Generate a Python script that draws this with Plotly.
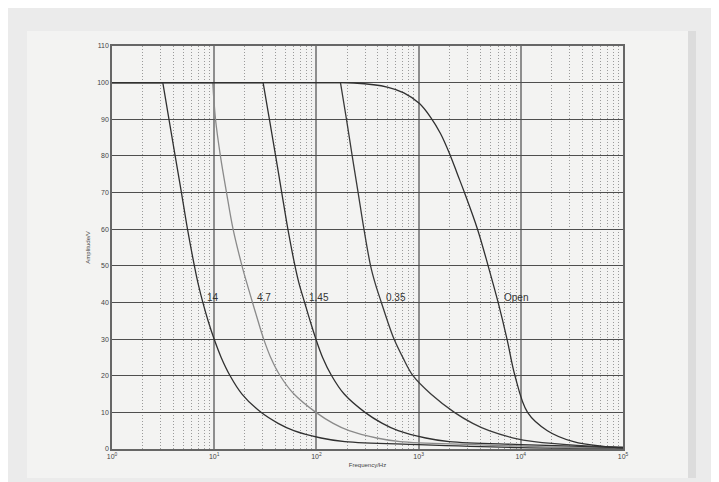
import math
import plotly.graph_objects as go

# ---- data ----
f_14 = [1, 3.14, 3.61, 4.15, 4.78, 5.48, 6.40, 6.98, 7.74, 8.71, 9.98, 11.7, 14.3, 18.7, 28.7,
        42.2, 60.1, 111, 190, 1000, 10000, 100000]
a_14 = [100, 100, 90, 80, 70, 60, 50, 45, 40, 35, 30, 25, 20, 15, 10,
        7, 5, 3, 2, 1.2, 0.4, 0.2]

f_47 = [1, 9.68, 10.3, 11.5, 13.2, 15.3, 18.7, 21.0, 23.7, 26.8, 30.5, 35.7, 44.2, 60.3, 98.9,
        146, 209, 389, 661, 3550, 31600, 100000]
a_47 = [100, 100, 90, 80, 70, 60, 50, 45, 40, 35, 30, 25, 20, 15, 10,
        7, 5, 3, 2, 1.2, 0.4, 0.3]

f_145 = [1, 30.1, 34.7, 39.9, 45.8, 52.6, 61.7, 67.9, 76.7, 86.7, 98.9, 115, 141, 187, 299,
         442, 631, 1175, 1995, 10000, 100000]
a_145 = [100, 100, 90, 80, 70, 60, 50, 45, 40, 35, 30, 25, 20, 15, 10,
         7, 5, 3, 2, 1.2, 0.4]

f_035 = [1, 172, 197, 224, 256, 292, 339, 378, 432, 495, 575, 700, 881, 1318, 2239,
         3388, 4898, 8511, 13490, 35480, 100000]
a_035 = [100, 100, 90, 80, 70, 60, 50, 45, 40, 35, 30, 25, 20, 15, 10,
         7, 5, 3, 2, 1, 0.5]

f_open = [1, 150, 232, 493, 717, 1020, 1307, 1637, 2050, 2400, 2810, 3770, 4790, 6000, 7330, 8770,
          11640, 18200, 32800, 64500, 100000]
a_open = [100, 100, 99.9, 98.8, 97.2, 94.3, 90.6, 86.1, 80, 75, 70, 60, 50, 40, 30, 20,
          10, 5, 2, 0.7, 0.3]

curve_names = ["14", "4.7", "1.45", "0.35", "Open"]
curve_f = [f_14, f_47, f_145, f_035, f_open]
curve_a = [a_14, a_47, a_145, a_035, a_open]
curve_colors = ["#303030", "#8a8a8a", "#303030", "#3a3a3a", "#303030"]

label_f = [9.8, 30.8, 105.6, 598, 8880]
label_a = [41.3, 41.3, 41.3, 41.3, 41.3]

x_tickvals = [1, 10, 100, 1000, 10000, 100000]
x_ticktext = ["10<sup>0</sup>", "10<sup>1</sup>", "10<sup>2</sup>", "10<sup>3</sup>",
              "10<sup>4</sup>", "10<sup>5</sup>"]
y_tickvals = list(range(0, 111, 10))

# ---- figure (page has an 8px body margin) ----
OFF = 8
W, H = 711, 474
ML, MR, MT, MB = 104, 96, 38, 33
PW, PH = W - ML - MR, H - MT - MB


def px_x(px):
    return (px - OFF - ML) / PW


def px_y(py):
    return (H - MB - (py - OFF)) / PH


fig = go.Figure()

for name, fx, ay, col in zip(curve_names, curve_f, curve_a, curve_colors):
    fig.add_trace(go.Scatter(x=fx[:2], y=ay[:2], mode="lines",
                             line=dict(color=col, width=1.3), showlegend=False,
                             hoverinfo="skip"))
    fig.add_trace(go.Scatter(x=fx[1:], y=ay[1:], mode="lines", name=name,
                             line=dict(color=col, width=1.3, shape="spline", smoothing=1.0),
                             showlegend=False))

for name, lx, ly in zip(curve_names, label_f, label_a):
    fig.add_annotation(x=math.log10(lx), y=ly, xref="x", yref="y", text=name, showarrow=False,
                       xanchor="center", yanchor="middle",
                       font=dict(size=10, color="#333333", family="Liberation Sans, Arial"))

shapes = [
    dict(type="rect", xref="paper", yref="paper", x0=px_x(687), x1=px_x(696), y0=px_y(478), y1=px_y(31),
         fillcolor="#dcdcdc", line=dict(width=0), layer="below"),
    dict(type="rect", xref="paper", yref="paper", x0=px_x(27), x1=px_x(688), y0=px_y(478), y1=px_y(31),
         fillcolor="#f3f3f2", line=dict(width=0), layer="below"),
]

fig.update_layout(
    width=W, height=H,
    margin=dict(l=ML, r=MR, t=MT, b=MB),
    paper_bgcolor="#ebebeb",
    plot_bgcolor="#f6f2f1",
    shapes=shapes,
    font=dict(family="Liberation Sans, Arial", color="#333333"),
    xaxis=dict(
        type="log", range=[0, 5],
        tickvals=x_tickvals, ticktext=x_ticktext,
        tickfont=dict(size=7, color="#444444"),
        showgrid=True, gridcolor="#8e8e8e", gridwidth=1.8,
        showline=True, linecolor="#666666", linewidth=1.5, mirror=True,
        ticks="", zeroline=False,
        minor=dict(dtick="D1", showgrid=True, gridcolor="#9a9a9a", griddash="1px,2px", gridwidth=1),
        title=dict(text="Frequency/Hz", font=dict(size=6, color="#444444"), standoff=4),
    ),
    yaxis=dict(
        range=[0, 110], tickvals=y_tickvals,
        tickfont=dict(size=7, color="#444444"),
        showgrid=True, gridcolor="#4e4e4e", gridwidth=1.2,
        showline=True, linecolor="#666666", linewidth=1.5, mirror=True,
        ticks="", zeroline=False,
        title=dict(text="Amplitude/V", font=dict(size=6, color="#444444"), standoff=6),
    ),
)

fig.write_html("out.html")
